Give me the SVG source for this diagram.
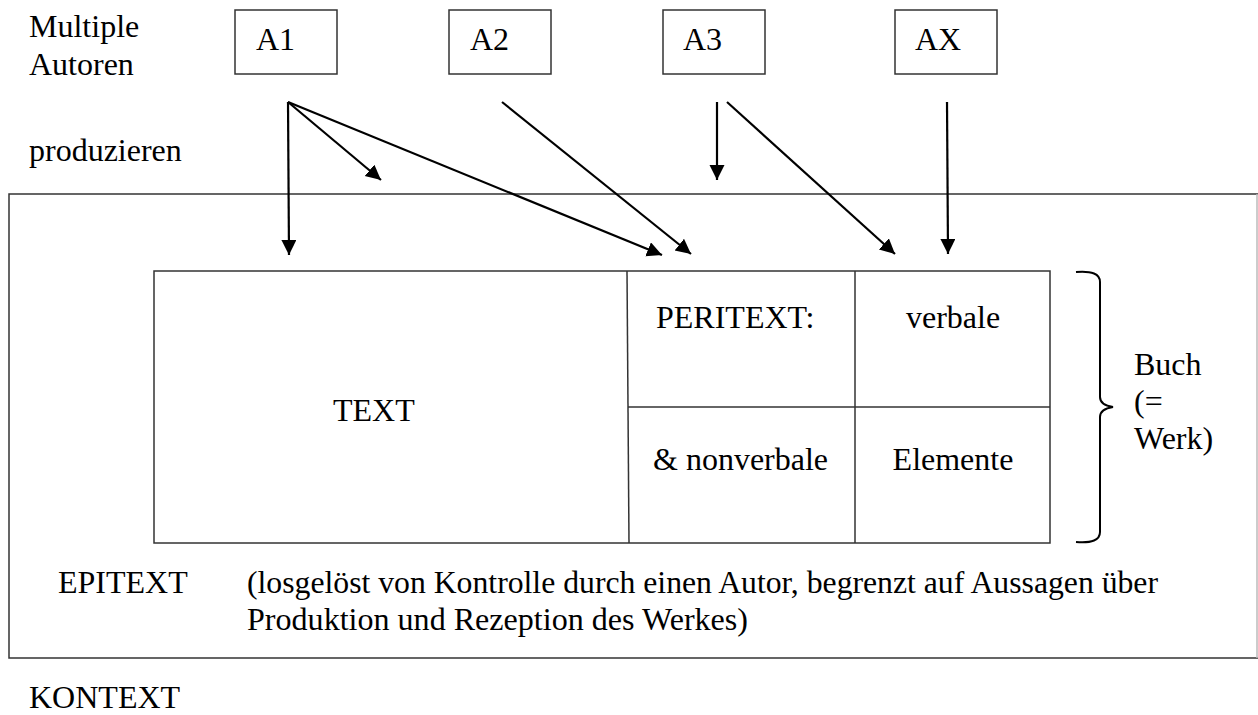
<svg xmlns="http://www.w3.org/2000/svg" width="1258" height="715" viewBox="0 0 1258 715">
<style>
text{font-family:"Liberation Serif","Times New Roman",serif;font-size:32px;fill:#000}
.box{fill:none;stroke:#333;stroke-width:1.5}
.conn{fill:none;stroke:#000;stroke-width:2.2;marker-end:url(#ah)}
.mid{text-anchor:middle}
</style>
<defs>
<marker id="ah" markerUnits="userSpaceOnUse" markerWidth="16" markerHeight="16" refX="15" refY="7.5" orient="auto">
<path d="M0,0 L15,7.5 L0,15 z" fill="#000"/>
</marker>
</defs>
<rect width="1258" height="715" fill="#fff"/>
<g id="labels">
<text x="29" y="37">Multiple</text>
<text x="29" y="75">Autoren</text>
<text x="29" y="161">produzieren</text>
<text x="29" y="708">KONTEXT</text>
</g>
<g id="A1"><rect class="box" x="235" y="10" width="102" height="64"/><text x="256" y="50">A1</text></g>
<g id="A2"><rect class="box" x="449" y="10" width="102" height="64"/><text x="470" y="50">A2</text></g>
<g id="A3"><rect class="box" x="663" y="10" width="102" height="64"/><text x="683" y="50">A3</text></g>
<g id="AX"><rect class="box" x="895" y="10" width="102" height="64"/><text x="915" y="50">AX</text></g>
<g id="epitext">
<path class="box" d="M1258,194 L9,194 L9,658 L1258,658"/>
<line x1="1257" y1="194" x2="1257" y2="658" stroke="#bbb" stroke-width="1.5"/>
<text x="58" y="593">EPITEXT</text>
<text x="247" y="593" textLength="911" lengthAdjust="spacingAndGlyphs">(losgelöst von Kontrolle durch einen Autor, begrenzt auf Aussagen über</text>
<text x="247" y="630" textLength="501" lengthAdjust="spacingAndGlyphs">Produktion und Rezeption des Werkes)</text>
</g>
<g id="buch">
<rect class="box" x="154" y="271" width="896" height="272"/>
<line class="box" x1="627" y1="271" x2="629" y2="543"/>
<line class="box" x1="855" y1="271" x2="855" y2="543"/>
<line class="box" x1="628" y1="407" x2="1050" y2="407"/>
<text x="333" y="421">TEXT</text>
<text x="656" y="328">PERITEXT:</text>
<text class="mid" x="953" y="328">verbale</text>
<text x="653" y="470">&amp; nonverbale</text>
<text class="mid" x="953" y="470">Elemente</text>
</g>
<g id="brace">
<path d="M1076,272 Q1100,270 1100,282 L1100,397 Q1100,405 1113,407 Q1100,409 1100,417 L1100,532 Q1100,544 1076,542" fill="none" stroke="#000" stroke-width="2"/>
<text x="1134" y="375">Buch</text>
<text x="1134" y="412">(=</text>
<text x="1134" y="449">Werk)</text>
</g>
<g id="connectors">
<line class="conn" x1="288" y1="102" x2="289" y2="255"/>
<line class="conn" x1="288" y1="102" x2="381" y2="180"/>
<line class="conn" x1="288" y1="102" x2="662" y2="255"/>
<line class="conn" x1="502" y1="102" x2="691" y2="254"/>
<line class="conn" x1="717" y1="102" x2="717" y2="180"/>
<line class="conn" x1="727" y1="102" x2="895" y2="254"/>
<line class="conn" x1="947" y1="102" x2="948" y2="254"/>
</g>
</svg>
